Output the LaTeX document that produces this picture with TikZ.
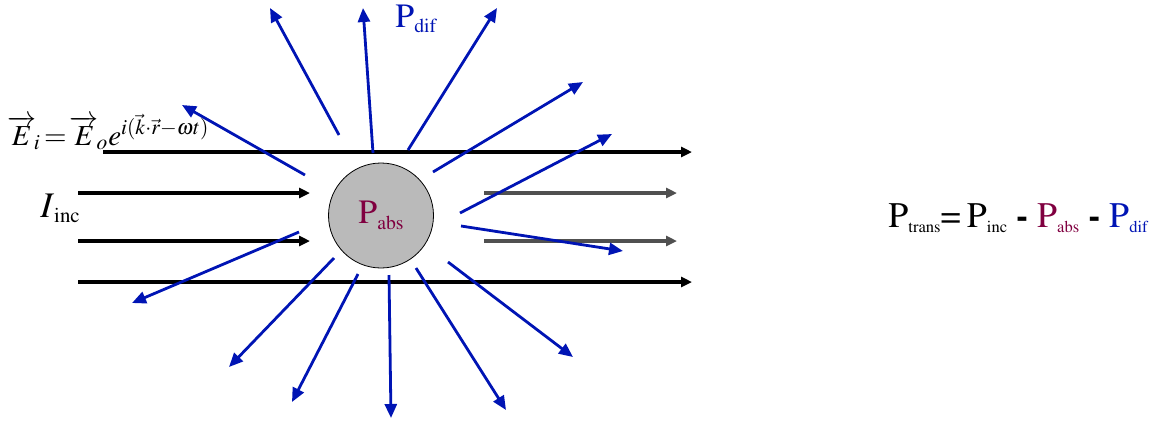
\documentclass[tikz,border=0pt]{standalone}
\usepackage{amsmath}
\usepackage[T1]{fontenc}
\usepackage{mathptmx}
\usetikzlibrary{arrows.meta, positioning, calc}
\definecolor{scatblue}{RGB}{0,20,180}
\definecolor{absred}{RGB}{128,0,64}
\definecolor{transgray}{RGB}{80,80,80}
\newcommand{\sbs}[2][0.58]{\raisebox{-0.15em}{\scalebox{#1}{#2}}}

\begin{document}
\begin{tikzpicture}[x=0.5pt, y=-0.5pt,
    beam/.style={line width=2pt, -{Triangle[length=5.5pt,width=5pt]}},
    outbeam/.style={beam, transgray, line width=1.6pt},
    scat/.style={scatblue, line width=1.4pt, -{Triangle[length=7pt,width=6pt]}}]
    \useasboundingbox (0,0) rectangle (1156,425);

    % Define the points for easier reference
    \coordinate (A1) at (103,152);
    \coordinate (A2) at (692,152);
    \coordinate (B1) at (78,193);
    \coordinate (B2) at (310,193);
    \coordinate (C1) at (78,241);
    \coordinate (C2) at (310,241);
    \coordinate (D1) at (78,282);
    \coordinate (D2) at (692,282);
    \coordinate (F1) at (484,193);
    \coordinate (F2) at (677,193);
    \coordinate (G1) at (484,241);
    \coordinate (G2) at (677,241);

    % The particle
    \node[circle, draw, thin, fill=black!27, minimum size=52.5pt, inner sep=0pt,
          font=\fontsize{17}{19}\selectfont, text=absred] (abs) at (381,215.5) {P\sbs{abs}};

    % Incident and transmitted beams
    \draw[beam] (A1) -- (A2);
    \draw[beam] (B1) -- (B2);
    \draw[beam] (C1) -- (C2);
    \draw[beam] (D1) -- (D2);
    \draw[outbeam] (F1) -- (F2);
    \draw[outbeam] (G1) -- (G2);

    % Scattered light
    \foreach \sx/\sy/\ex/\ey [count=\n] in {305/175/182/105, 339/135/270/8,
        373/153/363/8, 408/150/497/8, 433/172/583/82, 460/213/612/134,
        461/226/623/251, 448/262/573/357, 416/268/506/410, 389/275/391/418,
        358/274/292/402, 334/258/229/367, 299/232/132/303}
    {
        \coordinate (s\n) at (\sx,\sy);
        \coordinate (e\n) at (\ex,\ey);
        \draw[scat] (s\n) -- (e\n);
    }

    % Labels
    \node[anchor=base west, inner sep=0pt, font=\fontsize{14.5}{17}\selectfont] (field) at (7,145)
        {$\overrightarrow{E}_{\!i}\,{=}\,\overrightarrow{E}_{\!o}e^{i(\vec{k}\cdot\vec{r}-\omega t)}$};
    \node[anchor=base west, inner sep=0pt, font=\fontsize{18}{20}\selectfont] (inc) at (40,217)
        {$I$\sbs{inc}};
    \node[anchor=base west, inner sep=0pt, font=\fontsize{17}{19}\selectfont, text=scatblue] (dif) at (395,27)
        {P\sbs{dif}};
    \node[anchor=base west, inner sep=0pt, font=\fontsize{18}{20}\selectfont] (bal) at (888,227)
        {P\sbs[0.46]{trans}=\,P\sbs[0.46]{inc} \textbf{-} \textcolor{absred}{P\sbs[0.46]{abs}}
         \textbf{-} \textcolor{scatblue}{P\sbs[0.46]{dif}}};
\end{tikzpicture}
\end{document}
